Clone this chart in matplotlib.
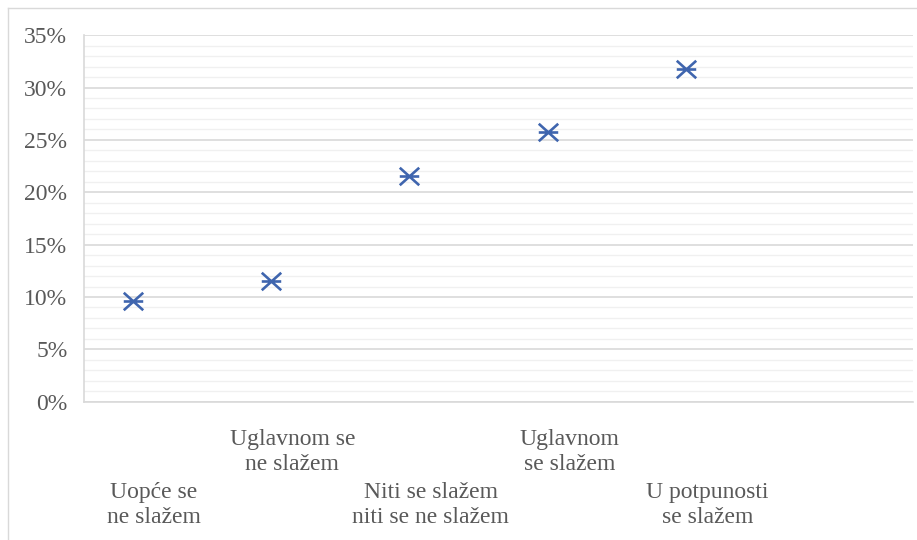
import matplotlib
matplotlib.use("Agg")
import matplotlib.pyplot as plt
from matplotlib.path import Path
from matplotlib.lines import Line2D
from matplotlib.ticker import MultipleLocator, FuncFormatter

categories = ["Uopće se\nne slažem", "Uglavnom se\nne slažem", "Niti se slažem\nniti se ne slažem",
              "Uglavnom\nse slažem", "U potpunosti\nse slažem"]
x_values = [1, 2, 3, 4, 5]
y_values = [9.6, 11.5, 21.6, 25.8, 31.8]

W, H = 917, 540
fig = plt.figure(figsize=(W / 100, H / 100), dpi=100)
fig.patch.set_facecolor("white")

left, right, top, bottom = 84, 913, 35.2, 401.7
ax = fig.add_axes([left / W, 1 - bottom / H, (right - left) / W, (bottom - top) / H])

ax.set_ylim(0, 35)
ax.set_xlim(1 - 48.5 / 138.4, 1 + (right - 132.5) / 138.4)

ax.yaxis.set_major_locator(MultipleLocator(5))
ax.yaxis.set_minor_locator(MultipleLocator(1))
ax.yaxis.set_major_formatter(FuncFormatter(lambda v, p: f"{int(round(v))}%"))
ax.grid(True, which="major", axis="y", color="#d9d9d9", linewidth=1.2, zorder=0)
ax.grid(True, which="minor", axis="y", color="#f0f0f0", linewidth=1.0, zorder=0)
ax.set_axisbelow(True)
ax.set_xticks([])
ax.tick_params(axis="y", which="both", length=0, pad=12, labelsize=17, labelcolor="#595959")
for lab in ax.get_yticklabels():
    lab.set_fontfamily("Liberation Serif")

for s in ["top", "right"]:
    ax.spines[s].set_visible(False)
for s in ["left", "bottom"]:
    ax.spines[s].set_color("#d9d9d9")
    ax.spines[s].set_linewidth(1.2)

marker_path = Path(
    [(-1, -0.9), (1, 0.9), (-1, 0.9), (1, -0.9), (-1, 0), (1, 0)],
    [Path.MOVETO, Path.LINETO, Path.MOVETO, Path.LINETO, Path.MOVETO, Path.LINETO],
)
ax.plot(x_values, y_values, linestyle="none", marker=marker_path, markersize=14,
        markeredgewidth=1.9, markeredgecolor="#3F65AE", markerfacecolor="none", zorder=3)

for i, (xv, lab) in enumerate(zip(x_values, categories)):
    dy = -36.5 if i % 2 == 1 else -74.5
    ax.annotate(lab, xy=(xv, 0), xycoords=("data", "axes fraction"),
                xytext=(15.5, dy), textcoords="offset points",
                ha="center", va="center", multialignment="center",
                fontsize=17, color="#595959", family="Liberation Serif",
                linespacing=1.25, annotation_clip=False)

# chart area border
fig.add_artist(Line2D([8 / W, 1.0], [1 - 8 / H, 1 - 8 / H], transform=fig.transFigure,
                      color="#d9d9d9", linewidth=1.0))
fig.add_artist(Line2D([8 / W, 8 / W], [0, 1 - 8 / H], transform=fig.transFigure,
                      color="#d9d9d9", linewidth=1.0))

fig.savefig("out.png", dpi=100, facecolor="white")
